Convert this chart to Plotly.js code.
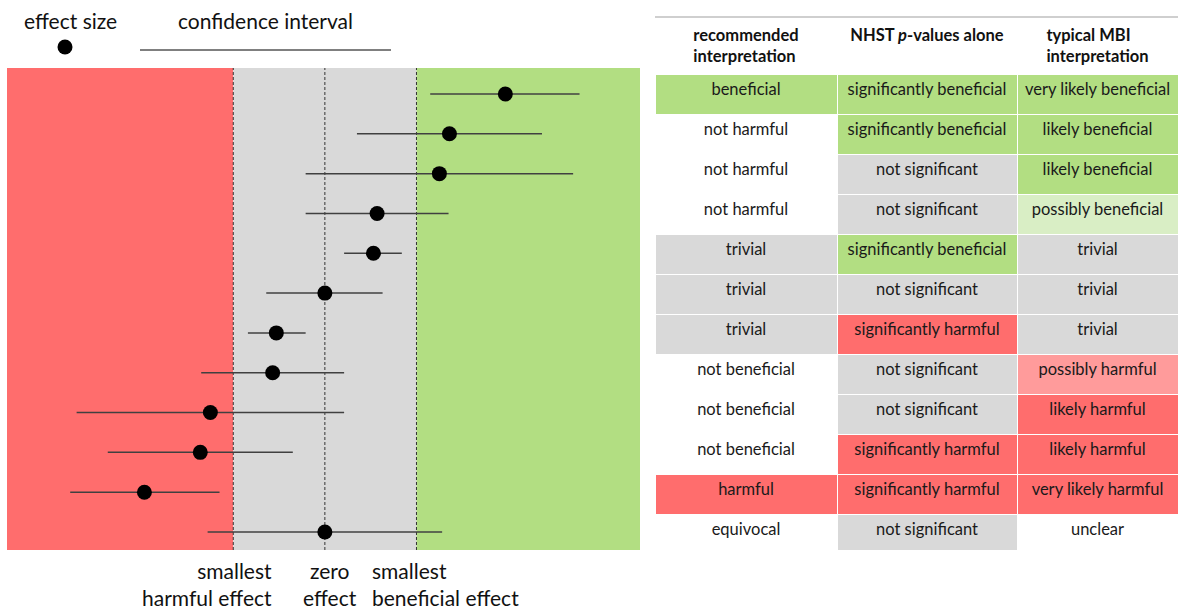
<!DOCTYPE html>
<html>
<head>
<meta charset="utf-8">
<script src="https://cdn.plot.ly/plotly-3.0.1.min.js"></script>
<style>
html,body{margin:0;padding:0;background:#fff;}
#chart{width:1178px;height:610px;}
</style>
</head>
<body>
<div id="chart"></div>
<script>
// ---- data ----
// effect sizes, in units of the smallest important effect (0 = zero effect, ±1 = smallest harmful/beneficial)
var rows = [1,2,3,4,5,6,7,8,9,10,11,12];
var effect = [1.97, 1.36, 1.25, 0.57, 0.53, 0.00, -0.53, -0.57, -1.25, -1.36, -1.97, 0.00];
var ciLow  = [1.15, 0.35, -0.21, -0.21, 0.21, -0.64, -0.84, -1.35, -2.71, -2.37, -2.78, -1.28];
var ciHigh = [2.78, 2.37, 2.71, 1.35, 0.84, 0.63, -0.21, 0.21, 0.21, -0.35, -1.15, 1.28];
var thresholds = [-1, 0, 1];

var headers = ["<b>recommended<br>interpretation</b>", "<b>NHST <i>p</i>-values alone</b>", "<b>typical MBI<br>interpretation</b>"];
var recommended = ["beneficial","not harmful","not harmful","not harmful","trivial","trivial","trivial","not beneficial","not beneficial","not beneficial","harmful","equivocal"];
var nhst = ["significantly beneficial","significantly beneficial","not significant","not significant","significantly beneficial","not significant","significantly harmful","not significant","not significant","significantly harmful","significantly harmful","not significant"];
var mbi = ["very likely beneficial","likely beneficial","likely beneficial","possibly beneficial","trivial","trivial","trivial","possibly harmful","likely harmful","likely harmful","very likely harmful","unclear"];

// cell shading classes: B beneficial, b possibly beneficial, T trivial/not significant, H harmful, h possibly harmful, W none
var recClass  = ["B","W","W","W","T","T","T","W","W","W","H","W"];
var nhstClass = ["B","B","T","T","B","T","H","T","T","H","H","T"];
var mbiClass  = ["B","B","B","b","T","T","T","h","H","H","H","W"];

// ---- styles ----
var RED = "#FF6D6D", GREEN = "#B2DE82", GREY = "#D9D9D9";
var palette = {B: GREEN, b: "#D9EEC5", T: GREY, H: RED, h: "#FF9B9B", W: "#FFFFFF"};
var FONT = "Lato, 'Open Sans', sans-serif";
var W = 1178, H = 610;
function px(x){ return x / W; }
function py(y){ return 1 - y / H; }
function noWrap(list){ return list.map(function(s){ return s.replace(/ /g, "\u00a0"); }); }
function fills(list){ return list.map(function(c){ return palette[c]; }); }

var xMin = -3.47, xMax = 3.44;
var yTop = 0.347, yBot = 12.452;

var errPlus = effect.map(function(v,i){ return ciHigh[i] - v; });
var errMinus = effect.map(function(v,i){ return v - ciLow[i]; });

var forest = {
  type: "scatter", mode: "markers",
  x: effect, y: rows,
  xaxis: "x", yaxis: "y",
  marker: {color: "#000", size: 15},
  error_x: {type: "data", symmetric: false, array: errPlus, arrayminus: errMinus,
            color: "#404040", thickness: 1.5, width: 0},
  hoverinfo: "skip", showlegend: false
};

var table = {
  type: "table",
  domain: {x: [px(655), 1], y: [py(550), py(17)]},
  columnwidth: [182, 180, 161],
  header: {
    values: headers,
    align: "center",
    height: 52,
    fill: {color: "#FFFFFF"},
    line: {color: "#FFFFFF", width: 0},
    font: {family: FONT, size: 16.5, color: "#111"}
  },
  cells: {
    values: [noWrap(recommended), noWrap(nhst), noWrap(mbi)],
    align: "center",
    height: 40,
    fill: {color: [fills(recClass), fills(nhstClass), fills(mbiClass)]},
    line: {color: "#FFFFFF", width: 1},
    font: {family: FONT, size: 16.5, color: "#1a1a1a"}
  }
};

var shapes = [
  {type: "rect", xref: "x", yref: "y domain", x0: xMin, x1: thresholds[0], y0: 0, y1: 1, fillcolor: RED, line: {width: 0}, layer: "below"},
  {type: "rect", xref: "x", yref: "y domain", x0: thresholds[0], x1: thresholds[2], y0: 0, y1: 1, fillcolor: GREY, line: {width: 0}, layer: "below"},
  {type: "rect", xref: "x", yref: "y domain", x0: thresholds[2], x1: xMax, y0: 0, y1: 1, fillcolor: GREEN, line: {width: 0}, layer: "below"}
];
thresholds.forEach(function(t){
  shapes.push({type: "line", xref: "x", yref: "y domain", x0: t, x1: t, y0: 0, y1: 1,
               line: {color: "#333", width: 1, dash: "3px,2px"}, layer: "below"});
});
// legend graphics
shapes.push({type: "circle", xref: "paper", yref: "paper", x0: px(57.5), x1: px(72.5), y0: py(54.5), y1: py(39.5),
             fillcolor: "#000", line: {width: 0}});
shapes.push({type: "line", xref: "paper", yref: "paper", x0: px(140), x1: px(391), y0: py(50), y1: py(50),
             line: {color: "#000", width: 1}});
// table top rule
shapes.push({type: "line", xref: "paper", yref: "paper", x0: px(655), x1: 1, y0: py(17), y1: py(17),
             line: {color: "#BFBFBF", width: 1.5}});

var annFont = {family: FONT, size: 21, color: "#111"};
var annotations = [
  {text: "effect size", xref: "paper", yref: "paper", x: px(70), y: py(20), xanchor: "center", yanchor: "middle", showarrow: false, font: annFont},
  {text: "confidence interval", xref: "paper", yref: "paper", x: px(265), y: py(20), xanchor: "center", yanchor: "middle", showarrow: false, font: annFont},
  {text: "smallest<br>harmful effect", xref: "paper", yref: "paper", x: px(274), y: py(584), xanchor: "right", yanchor: "middle", align: "right", showarrow: false, font: annFont},
  {text: "zero<br>effect", xref: "paper", yref: "paper", x: px(330), y: py(584), xanchor: "center", yanchor: "middle", align: "center", showarrow: false, font: annFont},
  {text: "smallest<br>beneficial effect", xref: "paper", yref: "paper", x: px(370), y: py(584), xanchor: "left", yanchor: "middle", align: "left", showarrow: false, font: annFont}
];

var layout = {
  width: W, height: H,
  margin: {l: 0, r: 0, t: 0, b: 0},
  paper_bgcolor: "#fff", plot_bgcolor: "rgba(0,0,0,0)",
  font: {family: FONT, color: "#111"},
  showlegend: false,
  xaxis: {domain: [px(7), px(640)], range: [xMin, xMax], visible: false, fixedrange: true},
  yaxis: {domain: [py(550), py(68)], range: [yBot, yTop], visible: false, fixedrange: true},
  shapes: shapes,
  annotations: annotations
};

Plotly.newPlot("chart", [forest, table], layout, {displayModeBar: false, staticPlot: true});
</script>
</body>
</html>
